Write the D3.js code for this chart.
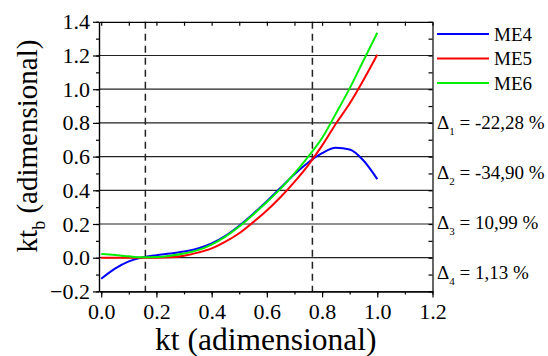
<!DOCTYPE html>
<html>
<head>
<meta charset="utf-8">
<script src="https://cdn.jsdelivr.net/npm/d3@7"></script>
</head>
<body style="margin:0">
<svg id="chart" width="548" height="356" font-family="Liberation Serif" style="display:block;font-family:'Liberation Serif'"></svg>
<script>
// data
const kt = [0, 0.05, 0.1, 0.15, 0.2, 0.25, 0.3, 0.35, 0.4, 0.45, 0.5,
    0.55, 0.6, 0.65, 0.7, 0.75, 0.8, 0.85, 0.9, 0.95, 1.0]
const me4 = [-0.125, -0.065, -0.022, 0.002, 0.015, 0.025, 0.037, 0.055, 0.085, 0.13, 0.19,
    0.26, 0.335, 0.415, 0.495, 0.565, 0.62, 0.652, 0.642, 0.577, 0.466]
const me5 = [0, 0, 0, 0, 0, 0.002, 0.012, 0.03, 0.055, 0.095, 0.145,
    0.21, 0.28, 0.36, 0.45, 0.55, 0.665, 0.795, 0.915, 1.055, 1.205]
const me6 = [0.022, 0.016, 0.008, 0.002, 0.004, 0.012, 0.025, 0.045, 0.078, 0.125, 0.185,
    0.255, 0.33, 0.41, 0.5, 0.6, 0.71, 0.855, 1.005, 1.17, 1.335]

const seriesNames = ["ME4", "ME5", "ME6"]
const seriesColors = ["#0000ff", "#ff0000", "#00ee00"]
const dashedAt = [0.16, 0.765]

const deltaSubs = ["1", "2", "3", "4"]
const deltaValues = ["-22,28", "-34,90", "10,99", "1,13"]

const xTicks = [0, 0.2, 0.4, 0.6, 0.8, 1.0, 1.2]
const yTicks = [-0.2, 0, 0.2, 0.4, 0.6, 0.8, 1.0, 1.2, 1.4]
const gridValues = [0, 0.2, 0.4, 0.6, 0.8, 1.0, 1.2]

const width = 548
const height = 356
const margin = { left: 99, right: 115.5, top: 21.8, bottom: 64.6 }

const svg = d3.select("#chart")

const x = d3.scaleLinear().domain([-0.008, 1.2]).range([margin.left, width - margin.right])
const y = d3.scaleLinear().domain([-0.2, 1.4]).range([height - margin.bottom, margin.top])

const minorX = d3.range(0, 13).map((i) => +(i * 0.1).toFixed(1))
const minorY = d3.range(-2, 15).map((i) => +(i * 0.1).toFixed(1))
const fmt = d3.format(".1f")

// grid
svg.append("g")
    .selectAll("line")
    .data(gridValues)
    .join("line")
    .attr("x1", x.range()[0])
    .attr("x2", x.range()[1])
    .attr("y1", (d) => y(d))
    .attr("y2", (d) => y(d))
    .attr("stroke", "#222")
    .attr("stroke-width", 1.2)

// dashed verticals
svg.append("g")
    .selectAll("line")
    .data(dashedAt)
    .join("line")
    .attr("x1", (d) => x(d))
    .attr("x2", (d) => x(d))
    .attr("y1", y.range()[1])
    .attr("y2", y.range()[0])
    .attr("stroke", "#222")
    .attr("stroke-width", 1.5)
    .attr("stroke-dasharray", "7,5")

// curves
const series = [me4, me5, me6]
const line = d3.line()
    .x((d, i) => x(kt[i]))
    .y((d) => y(d))
    .curve(d3.curveMonotoneX)

svg.append("g")
    .selectAll("path")
    .data(series)
    .join("path")
    .attr("d", (d) => line(d))
    .attr("fill", "none")
    .attr("stroke", (d, i) => seriesColors[i])
    .attr("stroke-width", 2)

// axes
const styleAxis = (g) => {
    g.attr("font-family", null).attr("font-size", null)
    g.selectAll(".domain").attr("stroke", "#000").attr("stroke-width", 1.2)
    g.selectAll(".tick line").attr("stroke", "#000").attr("stroke-width", 1.2)
    g.selectAll("text").attr("fill", "#000").attr("font-size", 22)
}

svg.append("g")
    .attr("transform", `translate(0,${y.range()[0]})`)
    .call(d3.axisBottom(x).tickValues(xTicks).tickFormat(fmt).tickSize(6).tickSizeOuter(0).tickPadding(6))
    .call(styleAxis)
svg.append("g")
    .attr("transform", `translate(0,${y.range()[0]})`)
    .call(d3.axisBottom(x).tickValues(minorX).tickFormat("").tickSize(3).tickSizeOuter(0))
    .call(styleAxis)

svg.append("g")
    .attr("transform", `translate(${x.range()[0]},0)`)
    .call(d3.axisLeft(y).tickValues(yTicks).tickFormat(fmt).tickSize(6).tickSizeOuter(0).tickPadding(3))
    .call(styleAxis)
svg.append("g")
    .attr("transform", `translate(${x.range()[0]},0)`)
    .call(d3.axisLeft(y).tickValues(minorY).tickFormat("").tickSize(3).tickSizeOuter(0))
    .call(styleAxis)

svg.append("g")
    .attr("transform", `translate(0,${y.range()[1]})`)
    .call(d3.axisTop(x).tickValues(minorX).tickFormat("").tickSize(-4).tickSizeOuter(0))
    .call(styleAxis)
svg.append("g")
    .attr("transform", `translate(${x.range()[1]},0)`)
    .call(d3.axisRight(y).tickValues(minorY).tickFormat("").tickSize(-4).tickSizeOuter(0))
    .call(styleAxis)

// axis titles
svg.append("text")
    .attr("x", (x.range()[0] + x.range()[1]) / 2)
    .attr("y", 350)
    .attr("text-anchor", "middle")
    .attr("font-size", 31.5)
    .text("kt (adimensional)")

const yTitle = svg.append("text")
    .attr("transform", "translate(37,146) rotate(-90)")
    .attr("text-anchor", "middle")
    .attr("font-size", 29)
yTitle.append("tspan").text("kt")
yTitle.append("tspan").attr("font-size", 18).attr("dy", 8).text("b")
yTitle.append("tspan").attr("dy", -8).text(" (adimensional)")

// legend
const legend = svg.append("g")
    .selectAll("g")
    .data(seriesNames)
    .join("g")
    .attr("transform", (d, i) => `translate(437,${34 + i * 24.5})`)
legend.append("line")
    .attr("x1", 0)
    .attr("x2", 52)
    .attr("stroke", (d, i) => seriesColors[i])
    .attr("stroke-width", 2)
legend.append("text")
    .attr("x", 57)
    .attr("dy", "0.35em")
    .attr("font-size", 19)
    .text((d) => d)

// delta annotations
const deltas = svg.append("g")
    .selectAll("text")
    .data(deltaValues)
    .join("text")
    .attr("x", 437)
    .attr("y", (d, i) => 129 + i * 50)
    .attr("font-size", 19)
deltas.append("tspan").text("\u0394")
deltas.append("tspan").attr("font-size", 11).attr("dy", 6).text((d, i) => deltaSubs[i])
deltas.append("tspan").attr("dy", -6).text((d) => ` = ${d} %`)
</script>
</body>
</html>
